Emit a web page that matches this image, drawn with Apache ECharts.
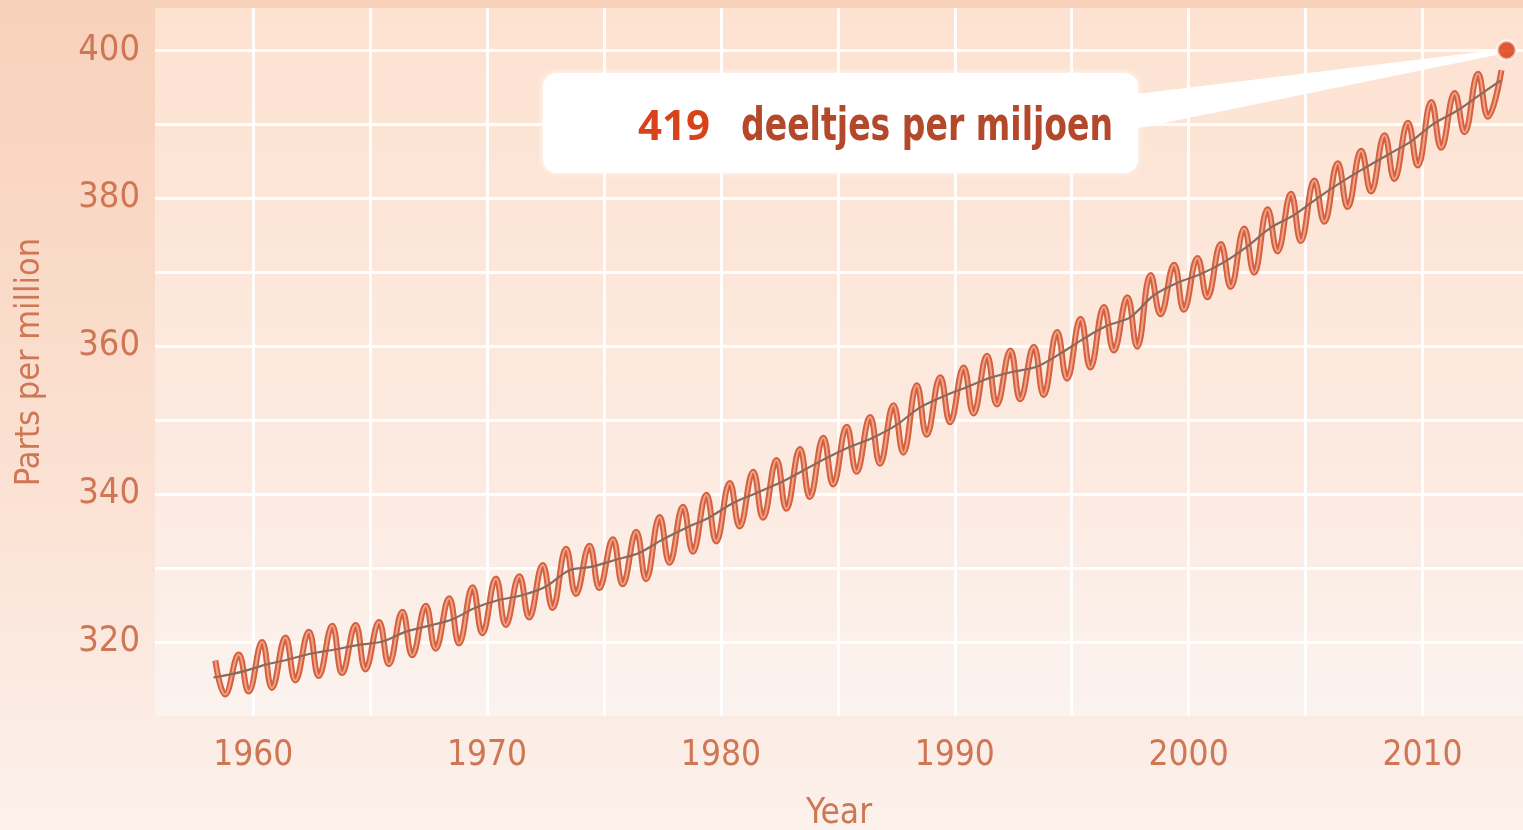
<!DOCTYPE html>
<html>
<head>
<meta charset="utf-8">
<script src="https://cdn.jsdelivr.net/npm/echarts@6/dist/echarts.min.js"></script>
<style>
  html, body { margin: 0; padding: 0; }
  #keeling { width: 1523px; height: 830px; }
</style>
</head>
<body>
<div id="keeling"></div>
<script>
// jaren met een piek (mei) en een dal (okt)
var years = [1958,1959,1960,1961,1962,1963,1964,1965,1966,1967,1968,1969,1970,1971,1972,1973,1974,1975,1976,1977,
  1978,1979,1980,1981,1982,1983,1984,1985,1986,1987,1988,1989,1990,1991,1992,1993,1994,1995,1996,1997,
  1998,1999,2000,2001,2002,2003,2004,2005,2006,2007,2008,2009,2010,2011,2012,2013];
var mayPeak = [317.5,318.3,320.0,320.6,321.4,322.2,322.3,322.7,324.1,324.9,325.9,327.4,328.6,328.9,330.4,332.6,333.0,333.9,334.9,336.9,
  338.3,339.9,341.5,343.0,344.6,346.1,347.6,349.1,350.4,352.0,354.7,355.8,357.1,358.7,359.4,359.9,361.9,363.7,365.3,366.6,
  369.6,371.0,371.9,373.8,375.9,378.5,380.6,382.4,384.7,386.4,388.5,390.2,393.0,394.2,396.8,397.3];
var octTrough = [312.9,313.3,313.8,314.8,315.4,315.8,316.3,317.0,318.2,319.1,319.8,321.2,322.3,323.3,324.6,326.5,327.3,327.8,328.5,330.7,
  332.2,333.6,335.6,336.8,338.0,339.6,341.3,343.0,344.1,345.6,348.0,349.7,350.9,352.1,352.8,353.4,355.6,357.1,359.4,359.9,
  364.3,364.9,366.6,368.0,369.9,372.8,374.2,376.8,378.8,380.9,382.6,384.4,386.8,388.9,391.0,null];
// jaargemiddelde (trendlijn)
var annualMean = [315.2,315.97,316.91,317.64,318.45,318.99,319.62,320.04,321.37,322.18,323.05,324.62,325.68,326.32,327.46,329.68,330.19,331.12,332.03,333.84,
  335.41,336.84,338.76,340.12,341.48,343.15,344.85,346.35,347.61,349.31,351.69,353.20,354.45,355.70,356.54,357.21,358.96,360.97,362.74,363.88,
  366.84,368.54,369.71,371.32,373.45,375.98,377.70,379.98,382.09,384.02,385.83,387.64,390.10,391.85,394.06,395.9];
var markerPoint = [2013.6, 400];
var xTicks = [1960, 1970, 1980, 1990, 2000, 2010];
var yTicks = [320, 340, 360, 380, 400];

var curve = [];
var trend = [];
for (var i = 0; i < years.length; i++) {
  curve.push([years[i] + 0.38, mayPeak[i]]);
  if (octTrough[i] != null) curve.push([years[i] + 0.8, octTrough[i]]);
  var tx = years[i] + 0.5;
  if (i === 0) tx = years[i] + 0.3;
  if (i === years.length - 1) tx = years[i] + 0.35;
  trend.push([tx, annualMean[i]]);
}

var labelColor = '#cf7755';
var fontNarrow = '"Liberation Sans Narrow", "DejaVu Sans Condensed", sans-serif';

function tickText(list) {
  return function (v) {
    var r = Math.round(v);
    return (Math.abs(v - r) < 1e-6 && list.indexOf(r) >= 0) ? String(r) : '';
  };
}

var chart = echarts.init(document.getElementById('keeling'));
chart.setOption({
  backgroundColor: new echarts.graphic.LinearGradient(0, 0, 0, 1, [
    { offset: 0, color: '#f8d1ba' },
    { offset: 0.6, color: '#fbe2d4' },
    { offset: 1, color: '#fcf1ec' }
  ]),
  animation: false,
  grid: {
    left: 155, right: 0, top: 8, bottom: 114,
    outerBoundsMode: 'none',
    containLabel: false,
    show: true,
    borderWidth: 0,
    backgroundColor: new echarts.graphic.LinearGradient(0, 0, 0, 1, [
      { offset: 0, color: '#fde2d1' },
      { offset: 0.7, color: '#fcebe2' },
      { offset: 1, color: '#fbf3ef' }
    ])
  },
  xAxis: {
    type: 'value',
    min: 1955.8,
    max: 2014.3,
    minInterval: 5,
    maxInterval: 5,
    splitNumber: 12,
    name: 'Year',
    nameLocation: 'middle',
    nameGap: 80,
    nameTextStyle: { color: labelColor, fontSize: 35, fontFamily: fontNarrow },
    axisLine: { show: false },
    axisTick: { show: false },
    axisLabel: { color: labelColor, fontSize: 35, fontFamily: fontNarrow, margin: 22, formatter: tickText(xTicks) },
    splitLine: { show: true, showMinLine: false, showMaxLine: false, lineStyle: { color: 'rgba(255,255,255,0.95)', width: 3 } }
  },
  yAxis: {
    type: 'value',
    min: 310,
    max: 405.7,
    minInterval: 10,
    maxInterval: 10,
    splitNumber: 10,
    name: 'Parts per million',
    nameLocation: 'middle',
    nameGap: 108,
    nameTextStyle: { color: labelColor, fontSize: 34, fontFamily: fontNarrow },
    axisLine: { show: false },
    axisTick: { show: false },
    axisLabel: { color: labelColor, fontSize: 36, fontFamily: fontNarrow, margin: 15, formatter: tickText(yTicks) },
    splitLine: { show: true, showMinLine: false, showMaxLine: false, lineStyle: { color: 'rgba(255,255,255,0.95)', width: 3 } }
  },
  series: [
    {
      name: 'co2-rand', type: 'line', data: curve, smooth: 0.45, showSymbol: false, z: 3,
      lineStyle: { color: '#d3603f', width: 6 }
    },
    {
      name: 'co2', type: 'line', data: curve, smooth: 0.45, showSymbol: false, z: 4,
      lineStyle: { color: '#f1a286', width: 2 }
    },
    {
      name: 'trend', type: 'line', data: trend, smooth: 0.3, showSymbol: false, z: 5,
      lineStyle: { color: '#8a6a5c', width: 2.2 }
    },
    {
      name: 'nu', type: 'scatter', data: [markerPoint], symbolSize: 19, z: 20,
      itemStyle: { color: '#d8340a', borderColor: 'rgba(255,255,255,0.8)', borderWidth: 3 }
    }
  ]
});

// tekstballon met wijzer naar de rode stip
var tip = chart.convertToPixel({ gridIndex: 0 }, markerPoint);
chart.setOption({
  graphic: [
    {
      type: 'polygon', z: 10,
      shape: { points: [[1120, 96], [1120, 132], [tip[0] - 2, tip[1] + 3], [tip[0] - 4, tip[1] - 1]] },
      style: { fill: '#ffffff' }
    },
    {
      type: 'rect', z: 11,
      shape: { x: 543, y: 73, width: 595, height: 100, r: 14 },
      style: { fill: '#ffffff', shadowBlur: 6, shadowColor: 'rgba(255,255,255,0.9)' }
    },
    {
      type: 'text', z: 12, x: 638, y: 107,
      style: { text: '419', fill: '#d8431b', font: 'bold 42px "Open Sans", sans-serif' }
    },
    {
      type: 'text', z: 12, x: 741, y: 105, scaleX: 0.8,
      style: { text: 'deeltjes per miljoen', fill: '#b4482b', font: 'bold 46px "DejaVu Sans Condensed", sans-serif' }
    }
  ]
});
</script>
</body>
</html>
